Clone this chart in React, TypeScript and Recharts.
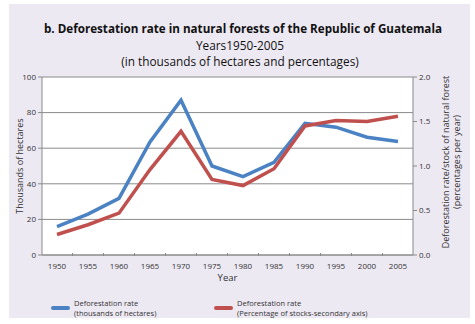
import { CartesianGrid, Label, Line, LineChart, XAxis, YAxis } from "recharts";

const years = ["1950", "1955", "1960", "1965", "1970", "1975", "1980", "1985", "1990", "1995", "2000", "2005"];
const hectares = [16, 23, 31.8, 63.5, 87, 50, 44, 52, 74, 71.8, 66.2, 63.8];
const percent = [0.23, 0.34, 0.47, 0.96, 1.39, 0.85, 0.78, 0.97, 1.45, 1.51, 1.5, 1.56];
const leftTicks = [0, 20, 40, 60, 80, 100];
const rightTicks = [0, 0.5, 1, 1.5, 2];

const data = years.map((year, i) => ({ year, hectares: hectares[i], percent: percent[i] }));

const FONT = "'Open Sans', sans-serif";
const BLUE = "#4a82c3";
const RED = "#c0504d";
const AXIS = "#8a8a8a";
const tick = { fill: "#333", fontSize: 8, fontFamily: FONT };

// year label plus a small mark halfway to the previous year, like the original
function YearTick(props: any) {
  const { x, y, payload, index } = props;
  const axisY = y - 8;
  return (
    <g>
      {index > 0 && <line x1={x - 15.5} x2={x - 15.5} y1={axisY - 2} y2={axisY + 1} stroke={AXIS} />}
      <text x={x} y={y} dy="0.71em" textAnchor="middle" fontSize={8} fill="#333" fontFamily={FONT}>
        {payload.value}
      </text>
    </g>
  );
}

function LegendBox() {
  const item = (color: string, l1: string, l2: string, left: number) => (
    <div style={{ position: "absolute", left, top: 0, display: "flex", alignItems: "center" }}>
      <div style={{ width: 19, height: 4, background: color, borderRadius: 2, marginRight: 4 }} />
      <div style={{ fontSize: 7.5, lineHeight: "10px", color: "#333", fontFamily: FONT }}>
        {l1}
        <br />
        {l2}
      </div>
    </div>
  );
  return (
    <div style={{ position: "absolute", left: 0, top: 298, width: 475, height: 20 }}>
      {item(BLUE, "Deforestation rate", "(thousands of hectares)", 51)}
      {item(RED, "Deforestation rate", "(Percentage of stocks-secondary axis)", 214)}
    </div>
  );
}

export default function App() {
  return (
    <div style={{ position: "absolute", left: 0, top: 0, width: 475, height: 324, background: "#fff", fontFamily: FONT }}>
      <div style={{ position: "absolute", left: 9, top: 4, width: 461, height: 314, background: "#ede9f3" }} />
      <div style={{ position: "absolute", left: 0, top: 21, width: 475, textAlign: "center", color: "#111" }}>
        <div style={{ fontSize: 11.65, fontWeight: 700, lineHeight: "16px", marginLeft: 11 }}>
          b. Deforestation rate in natural forests of the Republic of Guatemala
        </div>
        <div style={{ fontSize: 11.8, lineHeight: "16px", marginLeft: 5 }}>Years1950-2005</div>
        <div style={{ fontSize: 11.8, lineHeight: "16px", marginLeft: 5 }}>(in thousands of hectares and percentages)</div>
      </div>
      <div style={{ position: "absolute", left: 0, top: 0 }}>
        <LineChart width={475} height={324} data={data} margin={{ top: 77, right: 0, bottom: 49, left: 0 }}>
          <CartesianGrid yAxisId="left" vertical={false} stroke={AXIS} fill="#fff" />
          <XAxis
            dataKey="year"
            tick={<YearTick />}
            tickLine={false}
            axisLine={{ stroke: AXIS }}
            height={20}
            interval={0}
            padding={{ left: 15, right: 15 }}
          >
            <Label value="Year" position="insideBottom" offset={-6} style={{ fontSize: 9.5, fill: "#333", fontFamily: FONT }} />
          </XAxis>
          <YAxis
            yAxisId="left"
            width={42}
            domain={[0, 100]}
            ticks={leftTicks}
            tick={tick}
            tickSize={4}
            tickLine={{ stroke: AXIS }}
            axisLine={{ stroke: AXIS }}
          >
            <Label
              value="Thousands of hectares"
              angle={-90}
              position="insideLeft"
              offset={20}
              style={{ textAnchor: "middle", fontSize: 9, fill: "#333", fontFamily: FONT }}
            />
          </YAxis>
          <YAxis
            yAxisId="right"
            orientation="right"
            width={62}
            domain={[0, 2]}
            ticks={rightTicks}
            tickFormatter={(v: number) => v.toFixed(1)}
            tick={tick}
            tickSize={4}
            tickLine={{ stroke: AXIS }}
            axisLine={{ stroke: AXIS }}
          >
            <Label
              content={() => (
                <text transform="translate(449,162) rotate(-90)" textAnchor="middle" fontSize={9} fill="#333" fontFamily={FONT}>
                  <tspan x={0} dy={0}>Deforestation rate/stock of natural forest</tspan>
                  <tspan x={0} dy={10.5}>(percentages per year)</tspan>
                </text>
              )}
            />
          </YAxis>
          <Line yAxisId="left" type="linear" dataKey="hectares" stroke={BLUE} strokeWidth={3.5} dot={false} isAnimationActive={false} />
          <Line yAxisId="right" type="linear" dataKey="percent" stroke={RED} strokeWidth={3.5} dot={false} isAnimationActive={false} />
        </LineChart>
      </div>
      <LegendBox />
    </div>
  );
}
